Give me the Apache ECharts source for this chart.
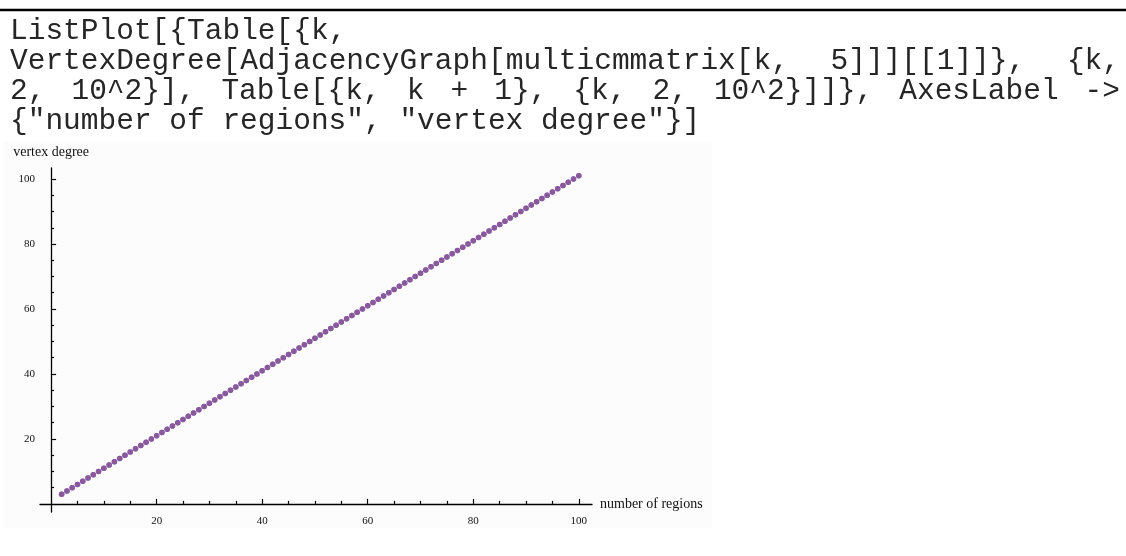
<!DOCTYPE html>
<html>
<head>
<meta charset="utf-8">
<script src="https://cdn.jsdelivr.net/npm/echarts@6/dist/echarts.min.js"></script>
<style>
  html, body { margin: 0; padding: 0; background: #fff; }
  #chart { width: 1126px; height: 556px; }
</style>
</head>
<body>
<div id="chart"></div>
<script>
// the Mathematica input shown above the plot
const codeLines = [
  'ListPlot[{Table[{k,',
  'VertexDegree[AdjacencyGraph[multicmmatrix[k, 5]]][[1]]}, {k,',
  '2, 10^2}], Table[{k, k + 1}, {k, 2, 10^2}]]}, AxesLabel ->',
  '{"number of regions", "vertex degree"}]'
]
const justified = [false, true, true, false]

// k = 2 .. 100
const regions = [
  2, 3, 4, 5, 6, 7, 8, 9, 10, 11, 12, 13, 14, 15, 16, 17, 18, 19, 20,
  21, 22, 23, 24, 25, 26, 27, 28, 29, 30, 31, 32, 33, 34, 35, 36, 37, 38, 39, 40,
  41, 42, 43, 44, 45, 46, 47, 48, 49, 50, 51, 52, 53, 54, 55, 56, 57, 58, 59, 60,
  61, 62, 63, 64, 65, 66, 67, 68, 69, 70, 71, 72, 73, 74, 75, 76, 77, 78, 79, 80,
  81, 82, 83, 84, 85, 86, 87, 88, 89, 90, 91, 92, 93, 94, 95, 96, 97, 98, 99, 100
]
// VertexDegree[...][[1]]
const vertexDegree = [
  3, 4, 5, 6, 7, 8, 9, 10, 11, 12, 13, 14, 15, 16, 17, 18, 19, 20, 21,
  22, 23, 24, 25, 26, 27, 28, 29, 30, 31, 32, 33, 34, 35, 36, 37, 38, 39, 40, 41,
  42, 43, 44, 45, 46, 47, 48, 49, 50, 51, 52, 53, 54, 55, 56, 57, 58, 59, 60, 61,
  62, 63, 64, 65, 66, 67, 68, 69, 70, 71, 72, 73, 74, 75, 76, 77, 78, 79, 80, 81,
  82, 83, 84, 85, 86, 87, 88, 89, 90, 91, 92, 93, 94, 95, 96, 97, 98, 99, 100, 101
]
// Table[{k, k + 1}]
const kPlusOne = [
  3, 4, 5, 6, 7, 8, 9, 10, 11, 12, 13, 14, 15, 16, 17, 18, 19, 20, 21,
  22, 23, 24, 25, 26, 27, 28, 29, 30, 31, 32, 33, 34, 35, 36, 37, 38, 39, 40, 41,
  42, 43, 44, 45, 46, 47, 48, 49, 50, 51, 52, 53, 54, 55, 56, 57, 58, 59, 60, 61,
  62, 63, 64, 65, 66, 67, 68, 69, 70, 71, 72, 73, 74, 75, 76, 77, 78, 79, 80, 81,
  82, 83, 84, 85, 86, 87, 88, 89, 90, 91, 92, 93, 94, 95, 96, 97, 98, 99, 100, 101
]
const xTicks = [20, 40, 60, 80, 100]
const yTicks = [20, 40, 60, 80, 100]
const xName = 'number of regions'
const yName = 'vertex degree'

const chart = echarts.init(document.getElementById('chart'))

// code text, justified like in the word processor
const codeSize = 29.5
const codeFont = codeSize + 'px "Courier New", "Liberation Mono", monospace'
const charW = codeSize * 0.6
const textLeft = 10, textRight = 1120
const lineY = [31, 61, 91, 121]
const codeGraphics = []
codeLines.forEach((line, i) => {
  const words = line.split(' ')
  let gap = charW
  if (justified[i] && words.length > 1) {
    const chars = words.reduce((s, w) => s + w.length, 0)
    gap = (textRight - textLeft - chars * charW) / (words.length - 1)
  }
  let x = textLeft
  words.forEach(w => {
    codeGraphics.push({
      type: 'text', x: x, y: lineY[i],
      style: { text: w, font: codeFont, fill: '#262626', verticalAlign: 'middle' }
    })
    x += w.length * charW + gap
  })
})

const axisFont = 'Liberation Serif'
const toPairs = ys => regions.map((k, i) => [k, ys[i]])

chart.setOption({
  animation: false,
  backgroundColor: '#fff',
  graphic: [
    { type: 'rect', shape: { x: 3, y: 142, width: 709, height: 386 }, style: { fill: '#fcfcfc' }, z: -10 },
    { type: 'line', shape: { x1: 0, y1: 10, x2: 1126, y2: 10 }, style: { stroke: '#000', lineWidth: 2.5 } }
  ].concat(codeGraphics),
  grid: { left: 40, top: 168, width: 552, height: 344 },
  xAxis: {
    type: 'value', min: -2.1, max: 102.5,
    name: xName, nameLocation: 'end', nameGap: 8,
    nameTextStyle: { fontFamily: axisFont, fontSize: 14, color: '#111', verticalAlign: 'middle' },
    axisLine: { onZero: true, lineStyle: { color: '#000', width: 1.3 } },
    axisTick: { inside: true, length: 5, customValues: xTicks, lineStyle: { color: '#000', width: 1.2 } },
    minorTick: { show: true, splitNumber: 4, length: 3, lineStyle: { color: '#000', width: 1.2 } },
    axisLabel: { customValues: xTicks, margin: 4, fontFamily: axisFont, fontSize: 11, color: '#111' },
    splitLine: { show: false }
  },
  yAxis: {
    type: 'value', min: -2.5, max: 103.4,
    name: yName, nameLocation: 'end', nameGap: 9,
    nameTextStyle: { fontFamily: axisFont, fontSize: 14, color: '#111' },
    axisLine: { onZero: true, lineStyle: { color: '#000', width: 1.3 } },
    axisTick: { inside: true, length: 5, customValues: yTicks, lineStyle: { color: '#000', width: 1.2 } },
    minorTick: { show: true, splitNumber: 4, length: 3, lineStyle: { color: '#000', width: 1.2 } },
    axisLabel: { customValues: yTicks, margin: 5, fontFamily: axisFont, fontSize: 11, color: '#111' },
    splitLine: { show: false }
  },
  series: [
    {
      type: 'scatter', data: toPairs(vertexDegree), symbolSize: 5.5,
      itemStyle: { color: '#3f3d99' }, z: 2
    },
    {
      type: 'scatter', data: toPairs(kPlusOne), symbolSize: 5.5,
      itemStyle: { color: '#955499' }, z: 3
    }
  ]
})
</script>
</body>
</html>
